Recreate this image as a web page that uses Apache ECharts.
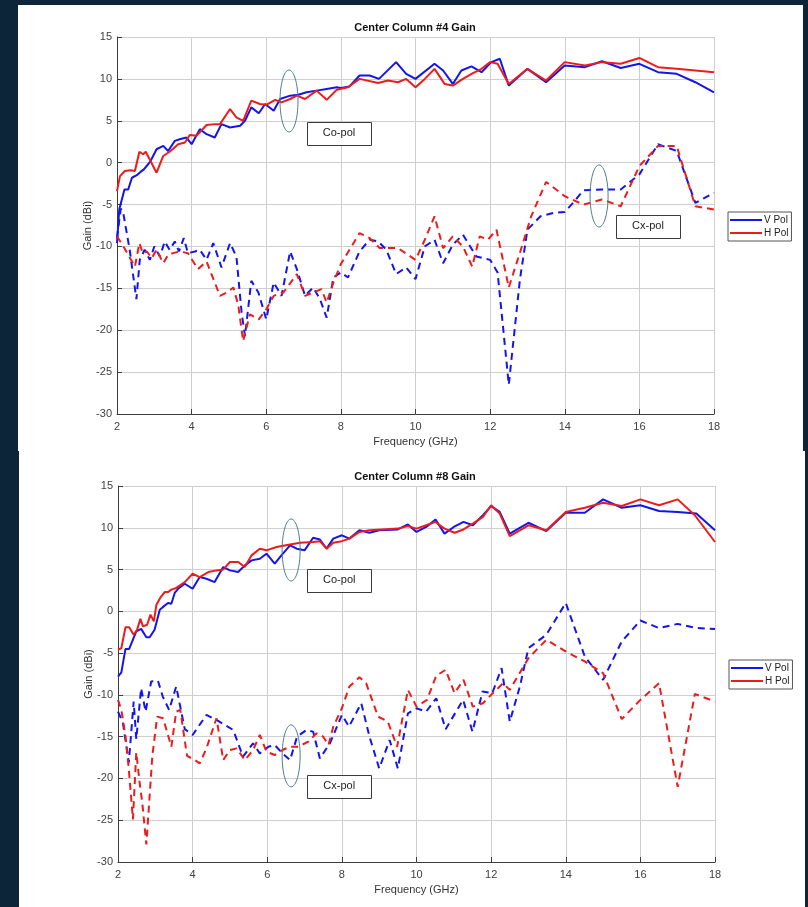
<!DOCTYPE html>
<html>
<head>
<meta charset="utf-8">
<title>Center Column Gain</title>
<script src="https://cdn.jsdelivr.net/npm/echarts@6/dist/echarts.min.js"></script>
<style>
  html, body { margin: 0; padding: 0; background: #0c2539; }
  #chart { width: 808px; height: 907px; }
</style>
</head>
<body>
<div id="chart"></div>
<script>
// Frequency axis (GHz) and gain axis (dBi) ticks
const freqTicks = [2, 4, 6, 8, 10, 12, 14, 16, 18];
const gainTicks = [-30, -25, -20, -15, -10, -5, 0, 5, 10, 15];
const titles = ['Center Column #4 Gain', 'Center Column #8 Gain'];
const legendNames = ['V Pol', 'H Pol'];

// Column #4, [frequency GHz, gain dBi]
const col4VCo = [[2.0,-9.6],[2.06,-5.6],[2.2,-3.2],[2.3,-3.2],[2.4,-1.8],[2.53,-1.5],[2.63,-1.1],[2.72,-0.8],[2.85,-0.1],[2.9,0.2],[3.06,1.6],[3.24,2.0],[3.37,1.4],[3.55,2.6],[3.68,2.8],[3.86,3.0],[4.0,2.2],[4.22,4.0],[4.4,3.4],[4.62,3.0],[4.8,4.6],[5.03,4.2],[5.3,4.4],[5.43,5.0],[5.6,6.6],[5.8,5.9],[5.97,7.0],[6.2,6.2],[6.37,7.6],[6.64,8.0],[6.86,8.1],[7.08,8.4],[7.35,8.6],[7.62,8.8],[7.89,9.0],[8.0,8.9],[8.23,9.1],[8.5,10.4],[8.77,10.4],[9.02,10.0],[9.48,12.0],[9.75,10.6],[10.0,10.0],[10.51,11.8],[10.74,11.0],[11.0,9.4],[11.23,11.0],[11.5,11.5],[11.77,10.8],[12.03,12.0],[12.26,12.4],[12.5,9.2],[13.0,11.2],[13.5,9.6],[14.0,11.6],[14.54,11.4],[15.0,12.1],[15.5,11.3],[16.0,11.8],[16.5,10.8],[17.0,10.6],[17.5,9.6],[18.0,8.4]];
const col4HCo = [[2.0,-3.4],[2.08,-1.6],[2.21,-1.0],[2.35,-0.9],[2.48,-1.0],[2.6,1.3],[2.7,1.0],[2.77,1.3],[3.06,-1.2],[3.24,0.8],[3.41,1.3],[3.64,2.2],[3.82,2.4],[3.95,3.3],[4.13,3.2],[4.4,4.5],[4.62,4.6],[4.76,4.6],[5.03,6.4],[5.2,5.4],[5.38,5.0],[5.6,7.4],[5.83,7.0],[6.0,6.9],[6.24,7.5],[6.41,7.2],[6.64,7.6],[6.82,8.0],[7.04,7.6],[7.35,8.6],[7.62,7.5],[7.89,8.7],[8.19,9.0],[8.5,10.0],[9.0,9.5],[9.26,9.8],[9.53,9.6],[9.75,10.0],[10.0,9.0],[10.25,10.0],[10.51,11.2],[10.78,9.4],[11.0,9.2],[11.27,10.0],[11.54,10.7],[11.77,11.2],[12.0,12.0],[12.2,11.8],[12.5,9.4],[13.0,11.2],[13.5,9.8],[14.0,12.0],[14.54,11.6],[15.0,12.0],[15.5,11.8],[16.0,12.5],[16.5,11.4],[17.0,11.2],[17.5,11.0],[18.0,10.8]];
const col4VCx = [[2.0,-9.0],[2.1,-5.5],[2.16,-5.8],[2.34,-10.4],[2.52,-16.3],[2.61,-11.6],[2.74,-10.4],[2.88,-11.6],[3.0,-10.0],[3.15,-11.2],[3.28,-9.4],[3.41,-10.4],[3.55,-9.4],[3.66,-10.6],[3.79,-9.0],[3.9,-10.8],[4.09,-10.6],[4.22,-10.4],[4.4,-11.6],[4.58,-9.6],[4.8,-12.5],[5.03,-9.6],[5.2,-11.2],[5.34,-17.9],[5.43,-20.7],[5.6,-14.1],[5.79,-15.5],[6.0,-18.7],[6.2,-14.3],[6.41,-15.9],[6.64,-10.6],[6.82,-12.7],[7.04,-15.9],[7.26,-14.9],[7.44,-16.3],[7.62,-18.5],[7.8,-13.7],[8.0,-13.1],[8.19,-13.7],[8.5,-10.6],[8.77,-9.2],[9.0,-9.4],[9.22,-10.4],[9.48,-13.3],[9.75,-12.5],[10.0,-13.9],[10.25,-10.0],[10.51,-9.2],[10.74,-12.0],[11.0,-9.8],[11.27,-8.6],[11.63,-11.2],[12.0,-11.6],[12.2,-13.1],[12.5,-26.5],[12.8,-13.9],[13.0,-8.0],[13.35,-6.4],[13.7,-6.0],[14.0,-5.9],[14.22,-4.8],[14.5,-3.3],[15.0,-3.2],[15.5,-3.2],[16.0,-1.4],[16.5,2.2],[17.0,1.4],[17.5,-4.8],[18.0,-3.6]];
const col4HCx = [[2.0,-8.8],[2.17,-10.0],[2.3,-11.0],[2.48,-12.4],[2.6,-9.6],[2.69,-10.8],[2.8,-10.6],[2.93,-11.4],[3.06,-10.4],[3.24,-12.0],[3.37,-11.0],[3.5,-10.8],[3.68,-10.6],[3.9,-10.8],[4.17,-12.7],[4.4,-11.8],[4.76,-15.9],[4.94,-15.5],[5.12,-14.9],[5.25,-17.0],[5.38,-21.3],[5.56,-18.1],[5.8,-18.7],[6.0,-17.5],[6.2,-15.9],[6.46,-15.5],[6.82,-13.3],[7.04,-15.9],[7.26,-15.5],[7.48,-15.1],[7.62,-16.7],[7.8,-14.3],[8.0,-12.1],[8.23,-10.4],[8.5,-8.4],[8.77,-9.0],[9.04,-10.2],[9.53,-10.2],[10.0,-11.6],[10.25,-9.2],[10.51,-6.4],[10.74,-10.2],[11.0,-8.8],[11.27,-10.0],[11.52,-12.4],[11.72,-8.8],[11.94,-9.2],[12.17,-8.0],[12.5,-14.9],[12.88,-9.6],[13.1,-6.4],[13.5,-2.3],[14.0,-4.0],[14.5,-5.0],[15.0,-4.4],[15.5,-5.2],[16.0,-0.4],[16.5,2.0],[17.0,2.0],[17.5,-5.2],[18.0,-5.6]];

// Column #8, [frequency GHz, gain dBi]
const col8VCo = [[2.0,-7.8],[2.09,-7.3],[2.2,-4.5],[2.3,-4.5],[2.49,-2.4],[2.62,-2.1],[2.76,-3.1],[2.85,-3.1],[2.98,-2.2],[3.12,0.2],[3.2,0.5],[3.34,1.0],[3.43,0.9],[3.52,2.2],[3.61,2.7],[3.79,3.3],[4.0,2.7],[4.19,4.1],[4.37,3.9],[4.59,3.5],[4.82,5.3],[5.0,4.9],[5.22,4.7],[5.4,5.5],[5.58,6.1],[5.8,6.3],[5.98,6.9],[6.2,5.7],[6.38,6.7],[6.61,7.9],[6.79,7.5],[7.0,7.3],[7.23,8.8],[7.41,8.6],[7.59,7.5],[7.77,8.7],[8.0,9.1],[8.2,8.7],[8.47,9.7],[8.74,9.4],[9.0,9.7],[9.5,9.8],[9.77,10.4],[10.0,9.5],[10.26,10.1],[10.51,11.0],[10.75,9.3],[11.0,10.1],[11.26,10.7],[11.51,10.3],[11.78,11.5],[12.0,12.6],[12.23,11.9],[12.5,9.3],[13.0,10.6],[13.48,9.6],[14.0,11.8],[14.51,11.8],[15.0,13.4],[15.5,12.4],[16.0,12.7],[16.5,12.0],[17.0,11.9],[17.5,11.7],[18.0,9.7]];
const col8HCo = [[2.0,-4.6],[2.09,-4.4],[2.2,-1.9],[2.3,-1.9],[2.42,-2.8],[2.51,-2.2],[2.6,-0.9],[2.67,-1.8],[2.78,-1.6],[2.87,-0.4],[2.96,-1.2],[3.03,0.8],[3.13,1.6],[3.25,2.3],[3.34,2.3],[3.43,2.6],[3.56,2.8],[3.79,3.5],[4.0,4.5],[4.19,4.1],[4.42,4.7],[4.64,4.9],[4.82,5.0],[5.0,5.9],[5.22,5.9],[5.4,5.3],[5.58,6.7],[5.8,7.5],[5.98,7.3],[6.25,7.7],[6.61,8.0],[6.88,8.2],[7.23,8.3],[7.41,8.4],[7.59,7.5],[7.77,8.2],[8.0,8.4],[8.2,8.7],[8.47,9.5],[8.74,9.7],[9.5,9.9],[9.77,10.2],[10.0,9.9],[10.26,10.3],[10.51,10.7],[10.75,9.9],[11.02,9.4],[11.26,9.8],[11.51,10.5],[11.78,11.3],[12.0,12.7],[12.23,11.7],[12.5,9.0],[13.0,10.3],[13.48,9.7],[14.0,11.9],[14.51,12.4],[15.0,13.0],[15.5,12.6],[16.0,13.4],[16.5,12.7],[17.0,13.4],[17.46,11.5],[18.0,8.3]];
const col8VCx = [[2.0,-12.0],[2.13,-13.3],[2.29,-18.1],[2.42,-10.8],[2.49,-15.3],[2.62,-9.2],[2.74,-12.0],[2.89,-8.4],[3.07,-8.3],[3.2,-10.2],[3.37,-11.8],[3.56,-9.0],[3.79,-14.1],[4.0,-14.8],[4.37,-12.4],[4.64,-13.0],[5.09,-14.2],[5.35,-17.4],[5.62,-15.8],[5.8,-17.0],[6.03,-16.2],[6.2,-16.0],[6.41,-17.0],[6.61,-17.8],[6.8,-15.0],[7.05,-14.2],[7.23,-14.4],[7.41,-17.6],[7.68,-15.8],[8.0,-12.4],[8.19,-13.8],[8.52,-11.0],[8.74,-15.0],[9.0,-18.8],[9.28,-15.4],[9.5,-18.8],[9.77,-12.2],[10.0,-11.6],[10.26,-12.0],[10.53,-10.4],[10.78,-14.1],[11.25,-10.6],[11.5,-14.4],[11.77,-9.6],[12.03,-9.8],[12.28,-6.8],[12.5,-13.2],[12.77,-9.0],[13.0,-4.4],[13.48,-2.8],[14.0,1.0],[14.51,-5.4],[15.0,-8.2],[15.5,-3.6],[16.0,-1.1],[16.5,-2.0],[17.0,-1.5],[17.5,-2.0],[18.0,-2.1]];
const col8HCx = [[2.0,-10.6],[2.09,-11.8],[2.2,-14.9],[2.29,-18.9],[2.4,-24.9],[2.49,-16.9],[2.58,-20.5],[2.65,-22.9],[2.76,-27.9],[2.92,-17.3],[3.05,-12.6],[3.21,-12.8],[3.43,-16.2],[3.56,-12.0],[3.67,-11.8],[3.85,-17.3],[4.06,-17.8],[4.19,-18.2],[4.37,-16.4],[4.64,-12.8],[4.82,-17.8],[5.0,-16.6],[5.18,-16.4],[5.4,-17.8],[5.62,-16.6],[5.8,-14.8],[5.98,-16.8],[6.2,-17.2],[6.41,-16.6],[6.61,-16.2],[6.83,-16.2],[7.1,-15.6],[7.32,-14.6],[7.5,-15.0],[7.64,-16.0],[7.77,-13.8],[8.0,-11.6],[8.2,-9.0],[8.47,-7.9],[8.65,-8.6],[8.97,-12.6],[9.23,-13.2],[9.48,-16.2],[9.77,-9.4],[10.0,-11.4],[10.28,-10.6],[10.53,-7.7],[10.78,-7.0],[11.02,-9.8],[11.26,-8.2],[11.51,-11.4],[11.78,-11.0],[12.0,-10.0],[12.32,-8.6],[12.5,-9.4],[13.0,-5.6],[13.48,-3.4],[14.0,-4.8],[14.51,-6.0],[15.0,-7.4],[15.5,-12.9],[16.0,-10.6],[16.5,-8.6],[17.0,-21.0],[17.46,-9.9],[18.0,-10.8]];

// Callout labels and the ring around each curve group, in data space
const calloutText = ['Co-pol', 'Cx-pol'];
const col4Rings = [[6.61, 7.36], [14.92, -3.98]];
const col4Boxes = [[7.95, 3.54], [16.23, -7.6]];
const col8Rings = [[6.64, 7.34], [6.64, -17.3]];
const col8Boxes = [[7.93, 3.7], [7.93, -20.95]];

const FONT = '"Liberation Sans", Arial, Helvetica, sans-serif';
const BLUE = '#1414ec';
const RED = '#ec1c1c';

const grids = [
  { left: 117, top: 37, width: 597, height: 377 },
  { left: 118, top: 486, width: 597, height: 376 }
];

function xAxisFor(i) {
  return {
    type: 'value', gridIndex: i, min: freqTicks[0], max: freqTicks[freqTicks.length - 1], interval: 2,
    name: 'Frequency (GHz)', nameLocation: 'middle', nameGap: 22, nameMoveOverlap: false,
    nameTextStyle: { fontFamily: FONT, fontSize: 11, color: '#333' },
    axisLine: { show: true, onZero: false, lineStyle: { color: '#3c3c3c', width: 1 } },
    axisTick: { show: true, inside: true, length: 5, lineStyle: { color: '#3c3c3c' } },
    axisLabel: { fontFamily: FONT, fontSize: 11, color: '#404040', margin: 7 },
    splitLine: { show: true, lineStyle: { color: '#cfcfcf', width: 1 } }
  };
}
function yAxisFor(i) {
  return {
    type: 'value', gridIndex: i, min: gainTicks[0], max: gainTicks[gainTicks.length - 1], interval: 5,
    name: 'Gain (dBi)', nameLocation: 'middle', nameGap: 24, nameMoveOverlap: false,
    nameTextStyle: { fontFamily: FONT, fontSize: 11, color: '#333' },
    axisLine: { show: true, onZero: false, lineStyle: { color: '#3c3c3c', width: 1 } },
    axisTick: { show: true, inside: true, length: 5, lineStyle: { color: '#3c3c3c' } },
    axisLabel: { fontFamily: FONT, fontSize: 11, color: '#404040', margin: 5 },
    splitLine: { show: true, lineStyle: { color: '#cfcfcf', width: 1 } }
  };
}
function curve(name, data, color, dashed, idx) {
  return {
    type: 'line', name: name, data: data, xAxisIndex: idx, yAxisIndex: idx,
    symbol: 'none', showSymbol: false, animation: false, silent: true,
    lineStyle: { color: color, width: 2, type: dashed ? [7, 5] : 'solid' },
    itemStyle: { color: color }
  };
}
function legendFor(left, top) {
  return {
    data: legendNames, orient: 'vertical', left: left, top: top,
    icon: 'rect', itemWidth: 32, itemHeight: 2, itemGap: 1, padding: [2, 3, 2, 2],
    backgroundColor: '#fff', borderColor: '#555', borderWidth: 1, borderRadius: 0,
    selectedMode: false,
    textStyle: { fontFamily: FONT, fontSize: 10, color: '#222', padding: [0, 0, 0, -3], lineHeight: 12 }
  };
}

const chart = echarts.init(document.getElementById('chart'), null, { renderer: 'canvas' });

const panels = [
  { type: 'rect', shape: { x: 18, y: 5, width: 785, height: 446 }, style: { fill: '#ffffff' }, z: -10, silent: true },
  { type: 'rect', shape: { x: 19, y: 451, width: 786, height: 456 }, style: { fill: '#ffffff' }, z: -10, silent: true }
];

chart.setOption({
  backgroundColor: '#0c2539',
  animation: false,
  title: titles.map(function (t, i) {
    return {
      text: t, left: 415, top: i === 0 ? 22 : 471, textAlign: 'center', padding: 0,
      textStyle: { fontFamily: FONT, fontSize: 11, fontWeight: 'bold', color: '#111' }
    };
  }),
  grid: grids,
  xAxis: [xAxisFor(0), xAxisFor(1)],
  yAxis: [yAxisFor(0), yAxisFor(1)],
  legend: [legendFor(728, 212), legendFor(729, 660)],
  series: [
    curve('V Pol', col4VCo, BLUE, false, 0),
    curve('H Pol', col4HCo, RED, false, 0),
    curve('V Pol', col4VCx, BLUE, true, 0),
    curve('H Pol', col4HCx, RED, true, 0),
    curve('V Pol', col8VCo, BLUE, false, 1),
    curve('H Pol', col8HCo, RED, false, 1),
    curve('V Pol', col8VCx, BLUE, true, 1),
    curve('H Pol', col8HCx, RED, true, 1)
  ],
  graphic: panels
});

// Callout rings and labelled boxes, placed through each grid's scales
function callouts(gridIndex, rings, boxes) {
  const out = [];
  rings.forEach(function (p) {
    const c = chart.convertToPixel({ gridIndex: gridIndex }, p);
    out.push({
      type: 'ellipse', shape: { cx: c[0], cy: c[1], rx: 9, ry: 31 },
      style: { fill: 'none', stroke: '#4e7e8c', lineWidth: 1 }, z: 50, silent: true
    });
  });
  boxes.forEach(function (p, k) {
    const c = chart.convertToPixel({ gridIndex: gridIndex }, p);
    out.push({
      type: 'rect', shape: { x: Math.round(c[0] - 32) + 0.5, y: Math.round(c[1] - 11.5) + 0.5, width: 64, height: 23 },
      style: { fill: '#ffffff', stroke: '#3a3a3a', lineWidth: 1 }, z: 50, silent: true
    });
    out.push({
      type: 'text', x: c[0], y: c[1], z: 51, silent: true,
      style: { text: calloutText[k], fontFamily: FONT, fontSize: 11, fill: '#222', align: 'center', verticalAlign: 'middle' }
    });
  });
  return out;
}

chart.setOption({
  graphic: panels.concat(callouts(0, col4Rings, col4Boxes), callouts(1, col8Rings, col8Boxes))
});
</script>
</body>
</html>
